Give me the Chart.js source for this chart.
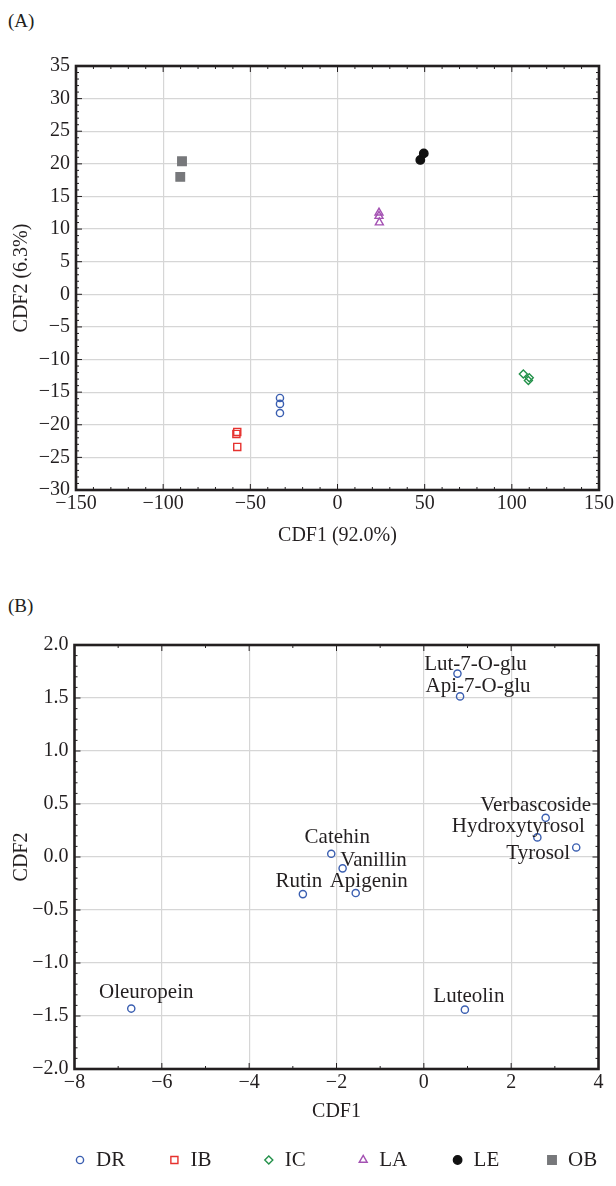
<!DOCTYPE html>
<html>
<head>
<meta charset="utf-8">
<script src="https://cdn.jsdelivr.net/npm/chart.js@4.4.1/dist/chart.umd.min.js"></script>
<style>
  body { margin: 0; background: #fff; width: 616px; height: 1186px; position: relative; overflow: hidden; font-family: "Liberation Serif", serif; color: #231f20; }
  .panel { position: absolute; left: 8px; font-size: 19px; }
  canvas { position: absolute; left: 0; }
</style>
</head>
<body>
<div class="panel" style="top:10px">(A)</div>
<div class="panel" style="top:595px">(B)</div>
<canvas id="chartA" width="616" height="548" style="top:0"></canvas>
<canvas id="chartB" width="616" height="626" style="top:560px"></canvas>
<script>
// (A) scores per group
var groups = ['DR', 'IB', 'IC', 'LA', 'LE', 'OB'];
var dr_cdf1 = [-33, -33, -33];
var dr_cdf2 = [-15.9, -16.8, -18.2];
var ib_cdf1 = [-57.5, -58, -57.5];
var ib_cdf2 = [-21.1, -21.4, -23.4];
var ic_cdf1 = [106.6, 110, 109.5];
var ic_cdf2 = [-12.2, -12.8, -13.2];
var la_cdf1 = [23.8, 23.8, 24];
var la_cdf2 = [12.5, 12.0, 11.0];
var le_cdf1 = [47.5, 49.5];
var le_cdf2 = [20.6, 21.6];
var ob_cdf1 = [-90.2, -89.2];
var ob_cdf2 = [18.0, 20.4];

// (B) compound loadings
var compounds = ['Lut-7-O-glu', 'Api-7-O-glu', 'Verbascoside', 'Hydroxytyrosol', 'Tyrosol', 'Catehin', 'Vanillin', 'Rutin', 'Apigenin', 'Oleuropein', 'Luteolin'];
var comp_cdf1 = [0.77, 0.83, 2.79, 2.60, 3.49, -2.12, -1.86, -2.77, -1.56, -6.70, 0.94];
var comp_cdf2 = [1.73, 1.515, 0.37, 0.185, 0.09, 0.03, -0.107, -0.35, -0.34, -1.43, -1.44];

// ticks
var xTicksA = [-150, -100, -50, 0, 50, 100, 150];
var yTicksA = [-30, -25, -20, -15, -10, -5, 0, 5, 10, 15, 20, 25, 30, 35];
var xTicksB = [-8, -6, -4, -2, 0, 2, 4];
var yTicksB = [-2, -1.5, -1, -0.5, 0, 0.5, 1, 1.5, 2];

var groupX = [dr_cdf1, ib_cdf1, ic_cdf1, la_cdf1, le_cdf1, ob_cdf1];
var groupY = [dr_cdf2, ib_cdf2, ic_cdf2, la_cdf2, le_cdf2, ob_cdf2];

var groupStyles = [
    { pointStyle: 'circle', radius: 3.6, color: '#3b5fb1', fill: false },
    { pointStyle: 'rect', radius: 5, color: '#e6312e', fill: false },
    { pointStyle: 'rectRot', radius: 4, color: '#23914a', fill: false },
    { pointStyle: 'triangle', radius: 4.6, color: '#a452b3', fill: false },
    { pointStyle: 'circle', radius: 4.2, color: '#111111', fill: true },
    { pointStyle: 'rect', radius: 6, color: '#77787b', fill: true }
];

// label offsets (px) from each point, for panel B
var labelOffsets = {
    'Lut-7-O-glu': [18, -9], 'Api-7-O-glu': [18, -10], 'Verbascoside': [-10, -12],
    'Hydroxytyrosol': [-19, -11], 'Tyrosol': [-38, 6], 'Catehin': [6, -16],
    'Vanillin': [31, -8], 'Rutin': [-4, -13], 'Apigenin': [13, -12],
    'Oleuropein': [15, -16], 'Luteolin': [4, -13]
};

var ink = '#231f20';
var gridColor = '#d6d6d6';
var font20 = { family: 'Liberation Serif', size: 20 };

function minus(v) {
    return String(v).replace('-', '\u2212');
}

function pts(xs, ys) {
    var out = [];
    for (var i = 0; i < xs.length; i++) out.push({ x: xs[i], y: ys[i] });
    return out;
}

// frame + minor ticks inward on all four sides
var framePlugin = {
    id: 'frame',
    afterDatasetsDraw: function(chart, args, opts) {
        var ctx = chart.ctx, a = chart.chartArea, xs = chart.scales.x, ys = chart.scales.y;
        ctx.save();
        ctx.strokeStyle = ink;
        ctx.lineWidth = 1;
        ctx.beginPath();
        var n = Math.round((xs.max - xs.min) / opts.dx);
        for (var i = 0; i <= n; i++) {
            var v = xs.min + i * opts.dx;
            var px = xs.getPixelForValue(v);
            var len = (i % opts.xEvery === 0) ? 6 : 3;
            ctx.moveTo(px, a.top); ctx.lineTo(px, a.top + len);
            ctx.moveTo(px, a.bottom); ctx.lineTo(px, a.bottom - len);
        }
        n = Math.round((ys.max - ys.min) / opts.dy);
        for (var j = 0; j <= n; j++) {
            var w = ys.min + j * opts.dy;
            var py = ys.getPixelForValue(w);
            var len2 = (j % opts.yEvery === 0) ? 6 : 3;
            ctx.moveTo(a.left, py); ctx.lineTo(a.left + len2, py);
            ctx.moveTo(a.right, py); ctx.lineTo(a.right - len2, py);
        }
        ctx.stroke();
        ctx.lineWidth = 2.6;
        ctx.strokeRect(a.left, a.top, a.right - a.left, a.bottom - a.top);
        ctx.restore();
    }
};

// names next to the compound points
var namesPlugin = {
    id: 'names',
    afterDatasetsDraw: function(chart) {
        var ctx = chart.ctx, xs = chart.scales.x, ys = chart.scales.y;
        ctx.save();
        ctx.font = '21px "Liberation Serif"';
        ctx.fillStyle = ink;
        ctx.textAlign = 'center';
        ctx.textBaseline = 'middle';
        for (var i = 0; i < compounds.length; i++) {
            var off = labelOffsets[compounds[i]];
            ctx.fillText(compounds[i], xs.getPixelForValue(comp_cdf1[i]) + off[0], ys.getPixelForValue(comp_cdf2[i]) + off[1]);
        }
        ctx.restore();
    }
};

// group legend under panel B
var legendPlugin = {
    id: 'groupLegend',
    afterDraw: function(chart) {
        var ctx = chart.ctx;
        ctx.save();
        ctx.font = '21px "Liberation Serif"';
        ctx.textBaseline = 'middle';
        ctx.textAlign = 'left';
        for (var i = 0; i < groups.length; i++) {
            var s = groupStyles[i];
            var x = 80 + i * 94.4, y = 600;
            ctx.strokeStyle = s.color;
            ctx.fillStyle = s.fill ? s.color : 'rgba(0,0,0,0)';
            ctx.lineWidth = 1.4;
            Chart.helpers.drawPoint(ctx, { pointStyle: s.pointStyle, radius: s.radius, rotation: 0, borderWidth: 1.4 }, x, y);
            ctx.fillStyle = ink;
            ctx.fillText(groups[i], x + 16, y);
        }
        ctx.restore();
    }
};

function axis(opts) {
    return Object.assign({
        type: 'linear',
        grid: { color: gridColor, lineWidth: 1.2, drawTicks: false },
        border: { display: false }
    }, opts);
}

var datasetsA = [];
for (var g = 0; g < groups.length; g++) {
    var st = groupStyles[g];
    datasetsA.push({
        label: groups[g],
        data: pts(groupX[g], groupY[g]),
        pointStyle: st.pointStyle,
        pointRadius: st.radius,
        pointBorderWidth: 1.4,
        pointBorderColor: st.color,
        pointBackgroundColor: st.fill ? st.color : 'rgba(0,0,0,0)'
    });
}

new Chart(document.getElementById('chartA'), {
    type: 'scatter',
    data: { datasets: datasetsA },
    plugins: [framePlugin],
    options: {
        responsive: false,
        animation: false,
        layout: { padding: { top: 66, right: 17, left: 10, bottom: 0 } },
        plugins: { legend: { display: false }, tooltip: { enabled: false }, frame: { dx: 10, dy: 1, xEvery: 5, yEvery: 5 } },
        scales: {
            x: axis({
                min: -150, max: 150,
                afterBuildTicks: function(s) { s.ticks = xTicksA.map(function(v) { return { value: v }; }); },
                afterFit: function(s) { s.height = 58; },
                ticks: { color: ink, font: font20, padding: 2, autoSkip: false, maxRotation: 0, callback: minus },
                title: { display: true, text: 'CDF1 (92.0%)', color: ink, font: font20, padding: 0 }
            }),
            y: axis({
                min: -30, max: 35,
                afterBuildTicks: function(s) { s.ticks = yTicksA.map(function(v) { return { value: v }; }); },
                afterFit: function(s) { s.width = 66; },
                ticks: { color: ink, font: font20, padding: 6, autoSkip: false, callback: minus },
                title: { display: true, text: 'CDF2 (6.3%)', color: ink, font: font20, padding: 0 }
            })
        }
    }
});

new Chart(document.getElementById('chartB'), {
    type: 'scatter',
    data: {
        datasets: [{
            label: 'compounds',
            data: pts(comp_cdf1, comp_cdf2),
            pointStyle: 'circle',
            pointRadius: 3.6,
            pointBorderWidth: 1.4,
            pointBorderColor: '#3b5fb1',
            pointBackgroundColor: 'rgba(0,0,0,0)'
        }]
    },
    plugins: [framePlugin, namesPlugin, legendPlugin],
    options: {
        responsive: false,
        animation: false,
        layout: { padding: { top: 85, right: 17.5, left: 10, bottom: 62 } },
        plugins: { legend: { display: false }, tooltip: { enabled: false }, frame: { dx: 1, dy: 0.1, xEvery: 2, yEvery: 5 } },
        scales: {
            x: axis({
                min: -8, max: 4,
                afterBuildTicks: function(s) { s.ticks = xTicksB.map(function(v) { return { value: v }; }); },
                afterFit: function(s) { s.height = 55; },
                ticks: { color: ink, font: font20, padding: 2, autoSkip: false, maxRotation: 0, callback: minus },
                title: { display: true, text: 'CDF1', color: ink, font: font20, padding: 0 }
            }),
            y: axis({
                min: -2, max: 2,
                afterBuildTicks: function(s) { s.ticks = yTicksB.map(function(v) { return { value: v }; }); },
                afterFit: function(s) { s.width = 64.5; },
                ticks: { color: ink, font: font20, padding: 6, autoSkip: false, callback: function(v) { return minus(v.toFixed(1)); } },
                title: { display: true, text: 'CDF2', color: ink, font: font20, padding: 0 }
            })
        }
    }
});
</script>
</body>
</html>
